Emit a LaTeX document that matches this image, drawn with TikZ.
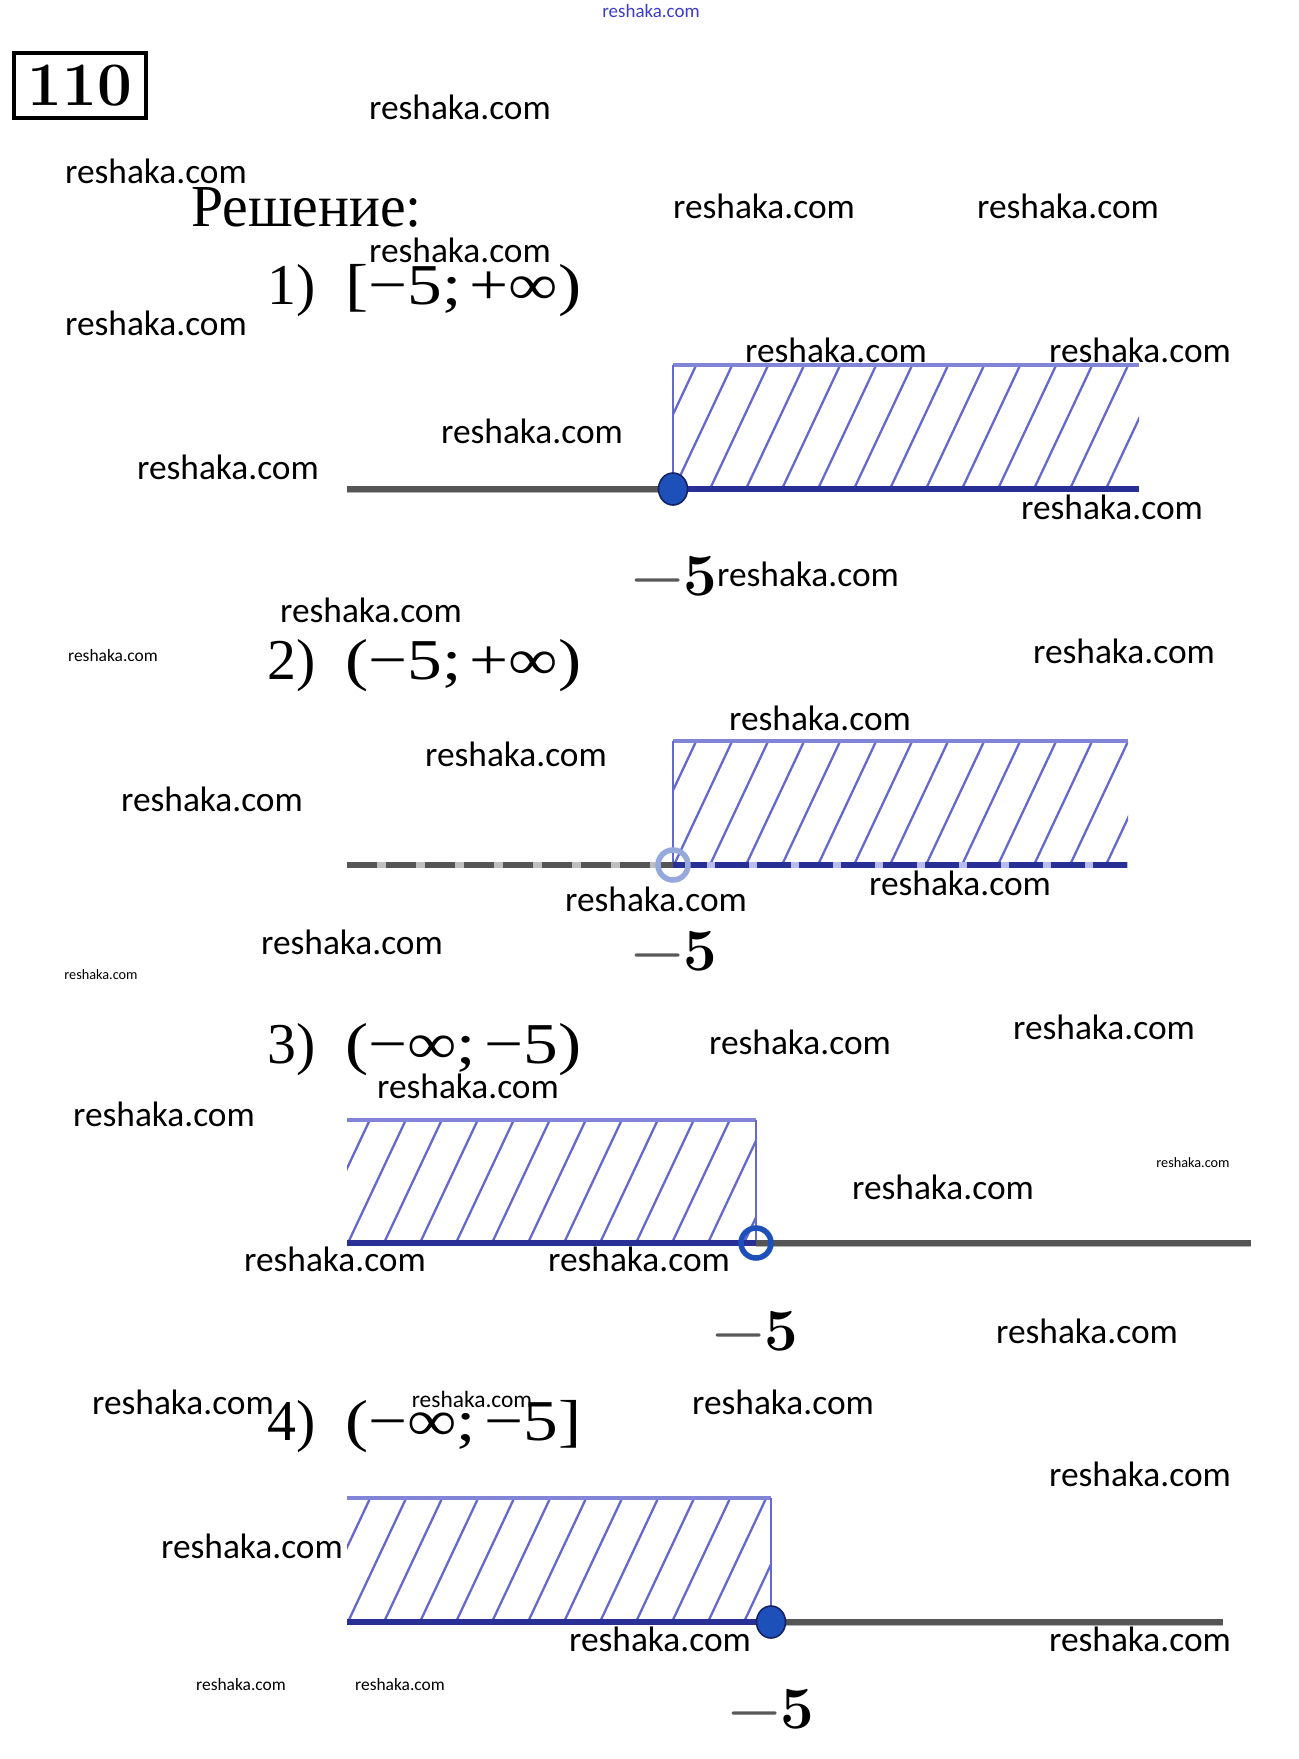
\documentclass[tikz,border=0pt]{standalone}
\usepackage{graphicx}
\usepackage{fontspec}
\newfontfamily\wmf{Carlito}
\newfontfamily\tmsf{Liberation Serif}
\definecolor{hatchc}{RGB}{100,105,208}
\definecolor{topc}{RGB}{130,132,216}
\definecolor{navyc}{RGB}{40,48,150}
\definecolor{axisg}{RGB}{85,85,85}
\definecolor{dotb}{RGB}{30,80,185}
\definecolor{dotedge}{RGB}{20,35,100}
\definecolor{wmblue}{RGB}{60,60,205}
\definecolor{ringpale}{RGB}{150,168,220}
\tikzset{
  wm/.style={font=\wmf\fontsize{35.5}{36}\selectfont, inner sep=0pt},
  wmsmall/.style={font=\wmf\fontsize{17.5}{18}\selectfont, inner sep=0pt},
  wmtiny/.style={font=\wmf\fontsize{14.3}{15}\selectfont, inner sep=0pt},
  wmmid/.style={font=\wmf\fontsize{23.5}{24}\selectfont, inner sep=0pt},
  serif/.style={font=\tmsf\fontsize{58}{58}\selectfont, inner sep=0pt, anchor=base west},
  lbl/.style={font=\fontsize{60}{60}\selectfont\bfseries, inner sep=0pt},
  hatchline/.style={draw=hatchc, line width=2.3bp},
  topedge/.style={draw=topc, line width=4.5bp},
  sideedge/.style={draw=hatchc, line width=1.6bp},
  grayaxis/.style={draw=axisg, line width=5.5bp},
  grayshade/.style={draw=black!30, line width=2.5bp},
  blueaxis/.style={draw=navyc, line width=5.5bp},
  fulldot/.style={ellipse, fill=dotb, draw=dotedge, line width=1.6bp, minimum width=29bp, minimum height=32bp, inner sep=0pt},
  ringdot/.style={circle, draw=dotb, line width=5.5bp, minimum size=30bp, inner sep=0pt},
  paledot/.style={circle, draw=ringpale, line width=5.5bp, minimum size=30bp, inner sep=0pt},
}
\usetikzlibrary{shapes.geometric}
\newcommand\myhatch[4]{% x1 ytop x2 ybottom
  \begin{scope}
    \clip (#1,#2) rectangle (#3,#4);
    \pgfmathsetmacro\hh{#4-#2}
    \foreach \k in {-4,...,16}
      \draw[hatchline] ({#1+\k*36},#4+2) -- ++({0.47*(\hh+4)},{-(\hh+4)});
  \end{scope}
}
\begin{document}
\begin{tikzpicture}[x=1bp,y=-1bp]
\useasboundingbox[fill=white] (0,0) rectangle (1298,1759);

% header
\node[draw, line width=3.8bp, minimum width=132bp, minimum height=65bp, inner sep=0pt,
      font=\fontsize{62}{62}\selectfont\bfseries] (num) at (80,85.5) {110};
\node[serif] (sol) at (191,226) {\scalebox{1.0}[1.03]{Решение:}};

% formulas
\node[serif] (f1n) at (267,304) {\scalebox{1.0}[1]{1)}};
\node[serif] (f1) at (345,304) {\scalebox{1.2}[1]{[−5;\kern0.12em+∞)}};
\node[serif] (f2n) at (267,679) {\scalebox{1.0}[1]{2)}};
\node[serif] (f2) at (345,679) {\scalebox{1.2}[1]{(−5;\kern0.12em+∞)}};
\node[serif] (f3n) at (267,1063) {\scalebox{1.0}[1]{3)}};
\node[serif] (f3) at (345,1063) {\scalebox{1.2}[1]{(−∞;\kern0.12em−5)}};
\node[serif] (f4n) at (267,1440) {\scalebox{1.0}[1]{4)}};
\node[serif] (f4) at (345,1440) {\scalebox{1.2}[1]{(−∞;\kern0.12em−5]}};

% ---------- line 1: [-5; +inf)
\myhatch{673}{365}{1139}{489}
\coordinate (r1tl) at (673,365); \coordinate (r1tr) at (1139,365);
\coordinate (a1l) at (347,489); \coordinate (a1c) at (673,489); \coordinate (a1r) at (1139,489);
\draw[topedge] (r1tl) -- (r1tr);
\draw[sideedge] (r1tl) -- (a1c);
\draw[grayshade] ([yshift=-3bp]a1l) -- ([yshift=-3bp]a1c);
\draw[grayaxis] (a1l) -- (a1c);
\draw[blueaxis] (a1c) -- (a1r);
\node[fulldot] (p1) at (a1c) {};
\node[lbl] (l1) at (674,576) {\textcolor{black!65}{−}5};

% ---------- line 2: (-5; +inf)
\myhatch{673}{741}{1128}{865}
\coordinate (r2tl) at (673,741); \coordinate (r2tr) at (1128,741);
\coordinate (a2l) at (347,865); \coordinate (a2c) at (673,865); \coordinate (a2r) at (1128,865);
\draw[topedge] (r2tl) -- (r2tr);
\draw[sideedge] (r2tl) -- (a2c);
\draw[draw=black!25, line width=5.5bp] (a2l) -- (a2c);
\draw[grayaxis, dash pattern=on 30bp off 9bp] (a2l) -- (a2c);
\draw[draw=hatchc!45, line width=5.5bp] (a2c) -- (a2r);
\draw[blueaxis, dash pattern=on 34bp off 8bp] (a2c) -- (a2r);
\node[paledot] (p2) at (a2c) {};
\node[lbl] (l2) at (674,951) {\textcolor{black!65}{−}5};

% ---------- line 3: (-inf; -5)
\myhatch{347}{1120}{756}{1243}
\coordinate (r3tl) at (347,1120); \coordinate (r3tr) at (756,1120);
\coordinate (a3l) at (347,1243); \coordinate (a3c) at (756,1243); \coordinate (a3r) at (1251,1243);
\draw[topedge] (r3tl) -- (r3tr);
\draw[sideedge] (r3tr) -- (a3c);
\draw[blueaxis] (a3l) -- (a3c);
\draw[grayshade] ([yshift=-3bp]a3c) -- ([yshift=-3bp]a3r);
\draw[grayaxis] (a3c) -- (a3r);
\node[ringdot] (p3) at (a3c) {};
\node[lbl] (l3) at (755,1331) {\textcolor{black!65}{−}5};

% ---------- line 4: (-inf; -5]
\myhatch{347}{1498}{771}{1622}
\coordinate (r4tl) at (347,1498); \coordinate (r4tr) at (771,1498);
\coordinate (a4l) at (347,1622); \coordinate (a4c) at (771,1622); \coordinate (a4r) at (1223,1622);
\draw[topedge] (r4tl) -- (r4tr);
\draw[sideedge] (r4tr) -- (a4c);
\draw[blueaxis] (a4l) -- (a4c);
\draw[grayshade] ([yshift=-3bp]a4c) -- ([yshift=-3bp]a4r);
\draw[grayaxis] (a4c) -- (a4r);
\node[fulldot] (p4) at (a4c) {};
\node[lbl] (l4) at (771,1709) {\textcolor{black!65}{−}5};

% ---------- watermarks
\node[font=\wmf\fontsize{19}{19}\selectfont, text=wmblue, inner sep=0pt] (wtop) at (651,11) {reshaka.com};
\foreach \x/\y [count=\i] in {460/107,156/171,764/206,1068/206,460/250,156/323,836/350,1140/350,
  532/431,228/467,1112/507,808/574,371/610,1124/651,820/718,516/754,212/799,656/899,960/883,
  352/942,800/1042,1104/1027,468/1086,164/1114,943/1187,335/1259,639/1259,1087/1331,183/1402,
  783/1402,1140/1474,252/1546,660/1639,1140/1639}
  \node[wm] (w\i) at (\x,\y) {reshaka.com};
\foreach \x/\y [count=\i] in {113/656,241/1684,400/1684}
  \node[wmsmall] (ws\i) at (\x,\y) {reshaka.com};
\node[wmtiny] (wt1) at (101,975) {reshaka.com};
\node[wmtiny] (wt2) at (1193,1163) {reshaka.com};
\node[wmmid] (wm1) at (472,1399) {reshaka.com};
\end{tikzpicture}
\end{document}
